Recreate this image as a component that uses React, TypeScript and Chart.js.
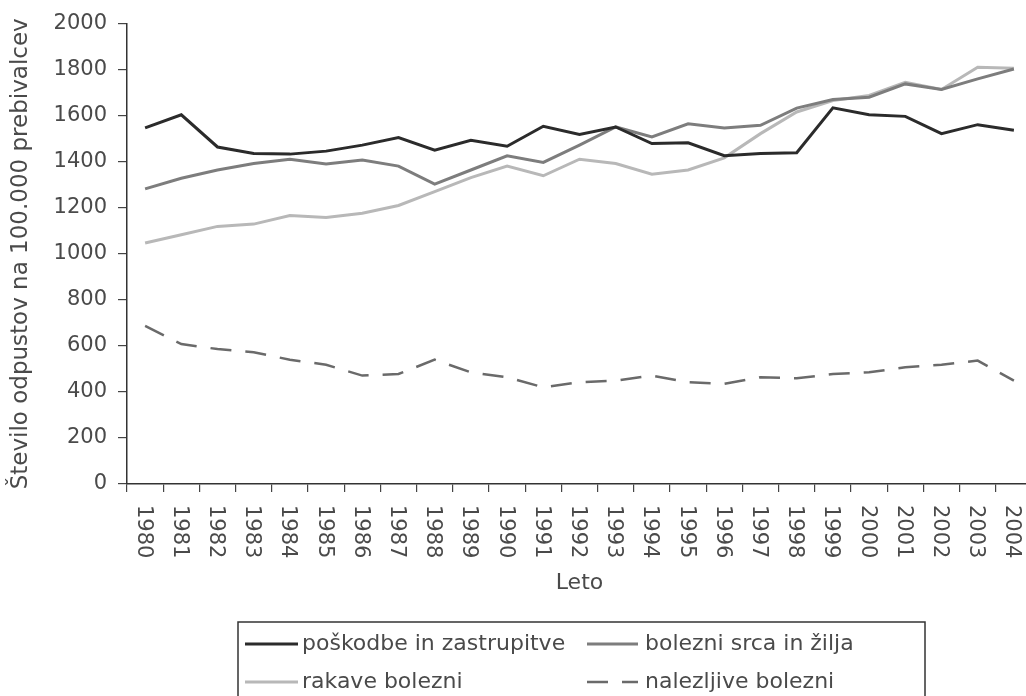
import React, { useEffect, useRef } from "react";
import { Chart, registerables } from "chart.js";

Chart.register(...registerables);

const years = ["1980","1981","1982","1983","1984","1985","1986","1987","1988","1989","1990","1991","1992","1993","1994","1995","1996","1997","1998","1999","2000","2001","2002","2003","2004"];

const poskodbe = [1547,1604,1464,1436,1433,1446,1472,1505,1450,1493,1467,1554,1518,1551,1479,1482,1426,1436,1439,1634,1604,1597,1522,1561,1537];
const srca = [1282,1328,1364,1392,1411,1390,1407,1381,1303,1364,1426,1397,1472,1551,1508,1565,1547,1558,1633,1670,1680,1738,1714,1760,1803];
const rakave = [1047,1083,1119,1129,1166,1158,1176,1210,1270,1331,1381,1339,1411,1392,1346,1364,1417,1522,1616,1666,1688,1745,1714,1810,1806];
const nalezljive = [687,608,586,572,540,518,471,478,540,485,464,420,442,449,471,442,435,464,459,478,485,507,518,536,449];

const seriesNames = ["poškodbe in zastrupitve", "bolezni srca in žilja", "rakave bolezni", "nalezljive bolezni"];
const yMin = 0;
const yMax = 2000;
const yStep = 200;
const yTitle = "Število odpustov na 100.000 prebivalcev";
const xTitle = "Leto";

const FONT = "'DejaVu Sans', sans-serif";
const TEXT = "#4a4a4a";

const rotatedXLabels = {
  id: "rotatedXLabels",
  afterDraw(chart: any) {
    const ctx = chart.ctx;
    const xs = chart.scales.x;
    const labels = chart.data.labels as string[];
    ctx.save();
    ctx.font = `21px ${FONT}`;
    ctx.fillStyle = TEXT;
    ctx.textAlign = "left";
    ctx.textBaseline = "middle";
    labels.forEach((lab, i) => {
      const x = xs.getPixelForTick(i);
      ctx.save();
      ctx.translate(x - 2, chart.chartArea.bottom + 21);
      ctx.rotate(Math.PI / 2);
      ctx.fillText(lab, 0, 0);
      ctx.restore();
    });
    ctx.restore();
  },
};

const boxLegend = {
  id: "boxLegend",
  afterDraw(chart: any) {
    const ctx = chart.ctx;
    const ds = chart.data.datasets;
    const left = 238, top = 622, right = 925, bottom = 730;
    ctx.save();
    ctx.strokeStyle = "#333";
    ctx.lineWidth = 1.5;
    ctx.strokeRect(left, top, right - left, bottom - top);
    const rows = [644, 682];
    const cols = [{ s: 245, e: 298, t: 302 }, { s: 587, e: 638, t: 645 }];
    ctx.font = `22px ${FONT}`;
    ctx.textBaseline = "middle";
    ctx.textAlign = "left";
    ds.forEach((d: any, i: number) => {
      const r = rows[Math.floor(i / 2)];
      const c = cols[i % 2];
      ctx.save();
      ctx.strokeStyle = d.borderColor;
      ctx.lineWidth = d.borderWidth;
      ctx.setLineDash(d.borderDash || []);
      ctx.beginPath();
      ctx.moveTo(c.s, r);
      ctx.lineTo(c.e, r);
      ctx.stroke();
      ctx.restore();
      ctx.fillStyle = TEXT;
      ctx.fillText(d.label, c.t, r);
    });
    ctx.restore();
  },
};

export default function App() {
  const ref = useRef<HTMLCanvasElement | null>(null);
  useEffect(() => {
    if (!ref.current) return;
    const chart = new Chart(ref.current, {
      type: "line",
      data: {
        labels: years,
        datasets: [
          { label: seriesNames[0], data: poskodbe, borderColor: "#2b2b2b", borderWidth: 3, pointRadius: 0, tension: 0 },
          { label: seriesNames[1], data: srca, borderColor: "#7d7d7d", borderWidth: 3, pointRadius: 0, tension: 0 },
          { label: seriesNames[2], data: rakave, borderColor: "#b8b8b8", borderWidth: 3, pointRadius: 0, tension: 0 },
          { label: seriesNames[3], data: nalezljive, borderColor: "#6a6a6a", borderWidth: 2.5, borderDash: [21, 14], pointRadius: 0, tension: 0 },
        ],
      },
      options: {
        animation: false,
        responsive: true,
        maintainAspectRatio: false,
        layout: { padding: { top: 8, right: 8, left: 0, bottom: 0 } },
        plugins: { legend: { display: false }, tooltip: { enabled: false } },
        scales: {
          x: {
            type: "category",
            offset: true,
            grid: { display: true, drawOnChartArea: false, drawTicks: true, tickLength: 8, offset: true, color: "#444", lineWidth: 1.2 },
            border: { display: true, color: "#333", width: 1.5 },
            ticks: { display: false },
            title: { display: true, text: xTitle, color: TEXT, font: { family: FONT, size: 22 }, padding: { top: 0, bottom: 100 } },
            afterFit: (s: any) => { s.height = 212; },
          },
          y: {
            min: yMin,
            max: yMax,
            ticks: { stepSize: yStep, color: TEXT, font: { family: FONT, size: 21 }, padding: 11, callback: (v: any) => String(v) },
            grid: { display: true, drawOnChartArea: false, drawTicks: true, tickLength: 9, color: "#444", lineWidth: 1.2 },
            border: { display: true, color: "#333", width: 1.5 },
            title: { display: true, text: yTitle, color: TEXT, font: { family: FONT, size: 23 }, padding: { top: 7, bottom: 0 } },
            afterFit: (s: any) => { s.width = 127; },
          },
        },
      },
      plugins: [rotatedXLabels, boxLegend],
    });
    return () => chart.destroy();
  }, []);
  return (
    <div style={{ position: "fixed", left: 0, top: 0, width: 1026, height: 696, overflow: "hidden", background: "#fff" }}>
      <div style={{ position: "relative", width: 1040, height: 696 }}>
        <canvas ref={ref} />
      </div>
    </div>
  );
}
